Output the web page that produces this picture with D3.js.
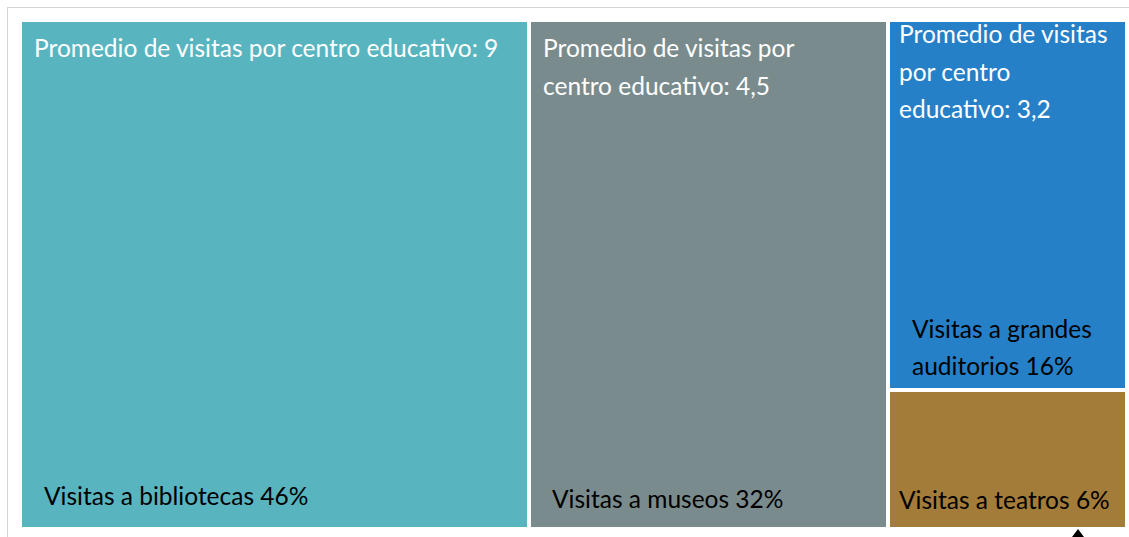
<!doctype html>
<html>
<head>
<meta charset="utf-8">
<script src="https://d3js.org/d3.v7.min.js"></script>
<style>
  body { margin: 0; background: #fff; }
  svg { display: block; }
  text { font-family: Lato, "Open Sans", sans-serif; }
</style>
</head>
<body>
<svg id="chart"></svg>
<script>
    // data (shares estimated from the tile areas, labels show them rounded)
    var categories = ["Visitas a bibliotecas", "Visitas a museos", "Visitas a grandes auditorios", "Visitas a teatros"];
    var shares = [46.0, 32.4, 15.7, 5.9];
    var averages = ["9", "4,5", "3,2", null];
    var colors = ["#58b5c0", "#7a8b8d", "#2680c8", "#a27c38"];
    // the last two share one column in the picture
    var column = [0, 1, 2, 2];

    var W = 1129, H = 537;
    var svg = d3.select("#chart").attr("width", W).attr("height", H);

    // light frame around the chart area
    svg.append("rect")
        .attr("x", 7.5).attr("y", 7.5)
        .attr("width", 1300).attr("height", 700)
        .attr("fill", "none")
        .attr("stroke", "#d4d4d4");

    var cols = d3.groups(categories.map(function (c, i) {
            return { name: c, value: shares[i], avg: averages[i], color: colors[i], idx: i };
        }), function (d) { return column[d.idx]; })
        .map(function (gr) {
            return gr[1].length === 1 ? gr[1][0] : { children: gr[1] };
        });

    var root = d3.hierarchy({ children: cols })
        .sum(function (d) { return d.children ? 0 : d.value; });

    d3.treemap()
        .tile(d3.treemapSliceDice)
        .size([1103, 505])
        .paddingInner(4)
        .round(true)(root);

    var g = svg.append("g").attr("transform", "translate(22,22)");

    // per-tile label placement (offsets from tile corner, right margin for wrapping)
    var topLab = { x: [12, 12, 9], y: [35, 35, 21], r: [18, 20, 6] };
    var botLab = { x: [22, 21, 22, 9], y: [22, 19, 13, 18] };
    var lineH = 37.5;
    var fs = 24.5;

    function wrap(str, maxW) {
        var words = str.split(" "), lines = [], cur = "";
        var tmp = g.append("text").style("font-size", fs + "px");
        words.forEach(function (w) {
            var t = cur ? cur + " " + w : w;
            tmp.text(t);
            if (tmp.node().getComputedTextLength() > maxW && cur) {
                lines.push(cur);
                cur = w;
            } else {
                cur = t;
            }
        });
        lines.push(cur);
        tmp.remove();
        return lines;
    }

    var leaves = root.leaves();

    var cell = g.selectAll("g.cell")
        .data(leaves)
        .enter().append("g")
        .attr("class", "cell")
        .attr("transform", function (d) { return "translate(" + d.x0 + "," + d.y0 + ")"; });

    cell.append("rect")
        .attr("width", function (d) { return d.x1 - d.x0; })
        .attr("height", function (d) { return d.y1 - d.y0; })
        .attr("fill", function (d) { return d.data.color; });

    cell.each(function (d) {
        var i = d.data.idx;
        var el = d3.select(this);
        var w = d.x1 - d.x0, h = d.y1 - d.y0;

        if (d.data.avg) {
            var lines = wrap("Promedio de visitas por centro educativo: " + d.data.avg, w - topLab.x[i] - topLab.r[i]);
            var t = el.append("text")
                .attr("fill", "#ffffff")
                .style("font-size", fs + "px");
            lines.forEach(function (l, k) {
                t.append("tspan")
                    .attr("x", topLab.x[i])
                    .attr("y", topLab.y[i] + k * lineH)
                    .text(l);
            });
        }

        var blines = wrap(d.data.name + " " + Math.round(d.data.value) + "%", w - botLab.x[i] - 4);
        var bt = el.append("text")
            .attr("fill", "#000000")
            .style("font-size", fs + "px");
        var lastY = h - botLab.y[i];
        blines.forEach(function (l, k) {
            bt.append("tspan")
                .attr("x", botLab.x[i])
                .attr("y", lastY - (blines.length - 1 - k) * lineH)
                .text(l);
        });
    });

    // small arrow head under the last tile
    svg.append("path")
        .attr("d", "M1078,529 L1069,541 L1087,541 Z")
        .attr("fill", "#000");
</script>
</body>
</html>
